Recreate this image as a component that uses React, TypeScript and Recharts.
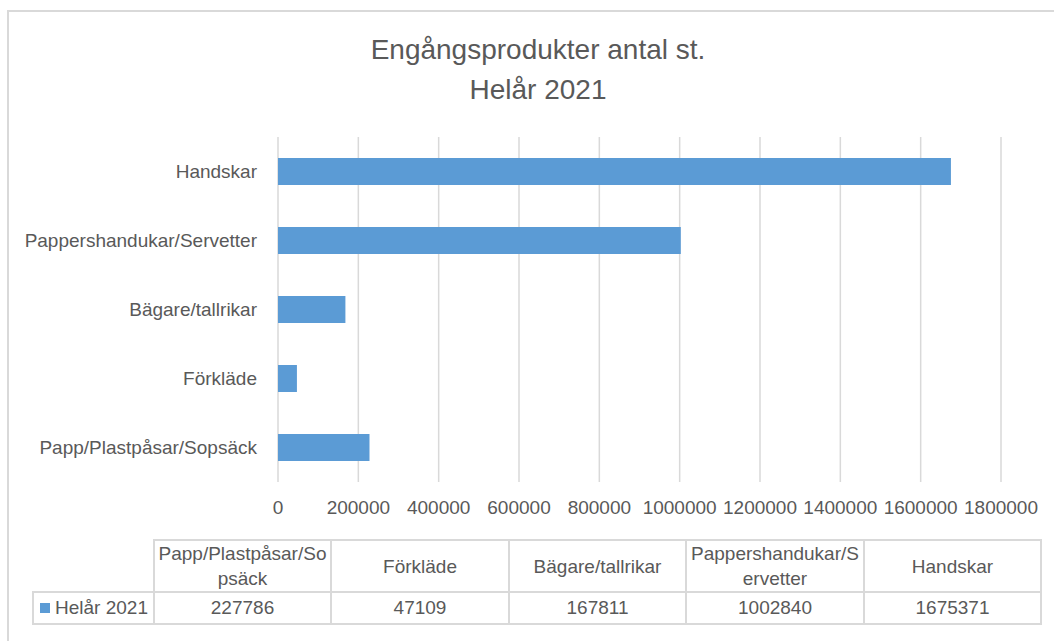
import React from 'react';
import { BarChart, Bar, XAxis, YAxis, CartesianGrid } from 'recharts';

const categories = [
  'Papp/Plastpåsar/Sopsäck',
  'Förkläde',
  'Bägare/tallrikar',
  'Pappershandukar/Servetter',
  'Handskar',
];
const values = [227786, 47109, 167811, 1002840, 1675371];
const seriesName = 'Helår 2021';
const xTicks = [0, 200000, 400000, 600000, 800000, 1000000, 1200000, 1400000, 1600000, 1800000];
const titleLines = ['Engångsprodukter antal st.', 'Helår 2021'];

const data = categories.map((c, i) => ({ name: c, value: values[i] }));

const FONT = '"Liberation Sans", Arial, sans-serif';
const TEXT = '#595959';
const GRID = '#d9d9d9';
const BAR = '#5B9BD5';

const colWidths = [121, 177, 178, 177, 178, 177];

export default function App() {
  return (
    <div
      style={{
        position: 'absolute',
        left: 0,
        top: 0,
        width: 1054,
        height: 641,
        overflow: 'hidden',
        background: '#fff',
        fontFamily: FONT,
        color: TEXT,
      }}
    >
      <div
        style={{
          position: 'absolute',
          left: 7,
          top: 10,
          width: 1200,
          height: 800,
          border: `2px solid ${GRID}`,
          boxSizing: 'border-box',
        }}
      />
      <div style={{ position: 'absolute', left: 0, top: 0 }}>
        <BarChart
          width={1054}
          height={641}
          data={data}
          layout="vertical"
          margin={{ top: 137, right: 53, bottom: 119, left: 0 }}
          barSize={27}
        >
          <CartesianGrid horizontal={false} vertical={true} stroke={GRID} strokeWidth={1.5} />
          <XAxis
            type="number"
            domain={[0, 1800000]}
            ticks={xTicks}
            interval={0}
            axisLine={false}
            tickLine={false}
            tickSize={0}
            tickMargin={19}
            height={40}
            tick={{ fill: TEXT, fontSize: 19, fontFamily: FONT }}
          />
          <YAxis
            type="category"
            dataKey="name"
            reversed
            width={278}
            axisLine={false}
            tickLine={false}
            tickSize={0}
            tickMargin={21}
            interval={0}
            tick={{ fill: TEXT, fontSize: 19, fontFamily: FONT }}
          />
          <Bar dataKey="value" name={seriesName} fill={BAR} isAnimationActive={false} />
        </BarChart>
      </div>
      <div
        style={{
          position: 'absolute',
          left: 0,
          width: 1076,
          top: 30,
          textAlign: 'center',
          fontSize: 28,
          lineHeight: '40px',
          color: TEXT,
        }}
      >
        {titleLines.map((t) => (
          <div key={t}>{t}</div>
        ))}
      </div>
      <table
        style={{
          position: 'absolute',
          left: 32,
          top: 539,
          borderCollapse: 'collapse',
          tableLayout: 'fixed',
          width: colWidths.reduce((a, b) => a + b, 0),
          fontSize: 19,
          color: TEXT,
          fontFamily: FONT,
        }}
      >
        <colgroup>
          {colWidths.map((w, i) => (
            <col key={i} style={{ width: w }} />
          ))}
        </colgroup>
        <tbody>
          <tr style={{ height: 52 }}>
            <td style={{ border: 'none', padding: 0 }} />
            {categories.map((c) => (
              <td
                key={c}
                style={{
                  border: `2px solid ${GRID}`,
                  textAlign: 'center',
                  padding: '0 3px',
                  lineHeight: '25px',
                  wordBreak: 'break-all',
                  verticalAlign: 'middle',
                }}
              >
                {c}
              </td>
            ))}
          </tr>
          <tr style={{ height: 32 }}>
            <td
              style={{
                border: `2px solid ${GRID}`,
                padding: '0 0 0 6px',
                whiteSpace: 'nowrap',
                lineHeight: '28px',
              }}
            >
              <span
                style={{
                  display: 'inline-block',
                  width: 10,
                  height: 10,
                  background: BAR,
                  marginRight: 5,
                  verticalAlign: 'middle',
                  position: 'relative',
                  top: -1,
                }}
              />
              {seriesName}
            </td>
            {values.map((v, i) => (
              <td
                key={i}
                style={{
                  border: `2px solid ${GRID}`,
                  textAlign: 'center',
                  padding: 0,
                  lineHeight: '28px',
                }}
              >
                {v}
              </td>
            ))}
          </tr>
        </tbody>
      </table>
    </div>
  );
}
